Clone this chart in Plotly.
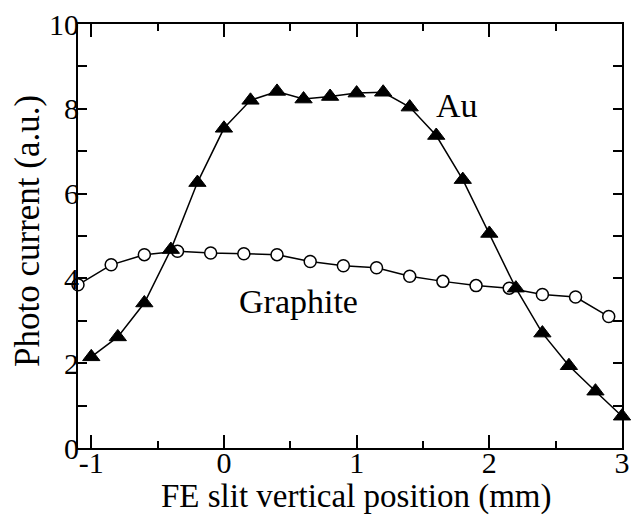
import plotly.graph_objects as go

au_x = [-1.0, -0.8, -0.6, -0.4, -0.2, 0.0, 0.2, 0.4, 0.6, 0.8, 1.0,
        1.2, 1.4, 1.6, 1.8, 2.0, 2.2, 2.4, 2.6, 2.8, 3.0]
au_y = [2.15, 2.62, 3.42, 4.68, 6.26, 7.54, 8.20, 8.41, 8.23, 8.29, 8.37,
        8.39, 8.04, 7.37, 6.33, 5.06, 3.77, 2.71, 1.94, 1.34, 0.75]

gr_x = [-1.1, -0.85, -0.6, -0.35, -0.1, 0.15, 0.4, 0.65, 0.9, 1.15,
        1.4, 1.65, 1.9, 2.15, 2.4, 2.65, 2.9]
gr_y = [3.85, 4.32, 4.56, 4.64, 4.60, 4.58, 4.56, 4.40, 4.30, 4.25,
        4.05, 3.93, 3.83, 3.77, 3.62, 3.56, 3.10]

x_ticks = [-1, 0, 1, 2, 3]
y_ticks = [0, 2, 4, 6, 8, 10]
x_range = [-1.1, 3]
y_range = [0, 10]

FONT = "Times New Roman, Liberation Serif, DejaVu Serif, serif"

fig = go.Figure()
fig.add_trace(go.Scatter(
    x=gr_x, y=gr_y, mode="lines+markers", name="Graphite",
    line=dict(color="black", width=1.5),
    marker=dict(symbol="circle", size=12, color="white",
                line=dict(color="black", width=1.5)),
    cliponaxis=False))
fig.add_trace(go.Scatter(
    x=au_x, y=au_y, mode="lines+markers", name="Au",
    line=dict(color="black", width=1.5),
    marker=dict(symbol="triangle-up", size=15, color="black",
                line=dict(color="black", width=1)),
    cliponaxis=False))
# empty trace so the label-only axes are drawn
fig.add_trace(go.Scatter(x=[], y=[], xaxis="x2", yaxis="y2",
                         showlegend=False, hoverinfo="skip"))

fig.add_annotation(x=1.76, y=8.07, text="Au", showarrow=False,
                   font=dict(family=FONT, size=34, color="black"))
fig.add_annotation(x=0.56, y=3.45, text="Graphite", showarrow=False,
                   font=dict(family=FONT, size=34, color="black"))

# axis titles
fig.add_annotation(xref="paper", yref="paper", x=(356 - 78) / 544,
                   y=(448 - 497) / 424, xanchor="center", yanchor="middle",
                   text="FE slit vertical position (mm)", showarrow=False,
                   font=dict(family=FONT, size=33, color="black"))
fig.add_annotation(xref="paper", yref="paper", x=(27 - 78) / 544,
                   y=(448 - 231) / 424, xanchor="center", yanchor="middle",
                   text="Photo current (a.u.)", textangle=-90, showarrow=False,
                   font=dict(family=FONT, size=35, color="black"))

fig.update_layout(
    width=635, height=516,
    margin=dict(l=78, r=13, t=24, b=68, autoexpand=False),
    paper_bgcolor="white", plot_bgcolor="rgba(0,0,0,0)",
    showlegend=False,
    font=dict(family=FONT, color="black"),
    xaxis=dict(
        range=x_range, tickvals=x_ticks, showticklabels=False,
        ticks="inside", ticklen=13, tickwidth=1.5, tickcolor="black",
        minor=dict(dtick=0.5, tick0=0, ticks="inside", ticklen=7,
                   tickwidth=1.5, tickcolor="black", showgrid=False),
        showline=True, linecolor="black", linewidth=2, mirror="ticks",
        showgrid=False, zeroline=False, automargin=False,
    ),
    yaxis=dict(
        range=y_range, tickvals=y_ticks, showticklabels=False,
        ticks="inside", ticklen=9, tickwidth=1.5, tickcolor="black",
        minor=dict(dtick=1, tick0=0, ticks="inside", ticklen=9,
                   tickwidth=1.5, tickcolor="black", showgrid=False),
        showline=True, linecolor="black", linewidth=2, mirror="ticks",
        showgrid=False, zeroline=False, automargin=False,
    ),
    # label-only axes, nudged slightly toward the plot like the reference
    xaxis2=dict(
        domain=[0, 1], range=x_range, anchor="free",
        position=6 / 424, side="bottom",
        tickvals=x_ticks, ticktext=[str(v) for v in x_ticks],
        ticks="", showline=False, showgrid=False, zeroline=False,
        automargin=False,
        tickfont=dict(family=FONT, size=30, color="black"),
    ),
    yaxis2=dict(
        domain=[0, 1], range=y_range, anchor="free",
        position=1 / 544, side="left",
        tickvals=y_ticks, ticktext=[str(v) for v in y_ticks],
        ticks="", showline=False, showgrid=False, zeroline=False,
        automargin=False,
        tickfont=dict(family=FONT, size=30, color="black"),
    ),
)

fig.write_html("out.html")
